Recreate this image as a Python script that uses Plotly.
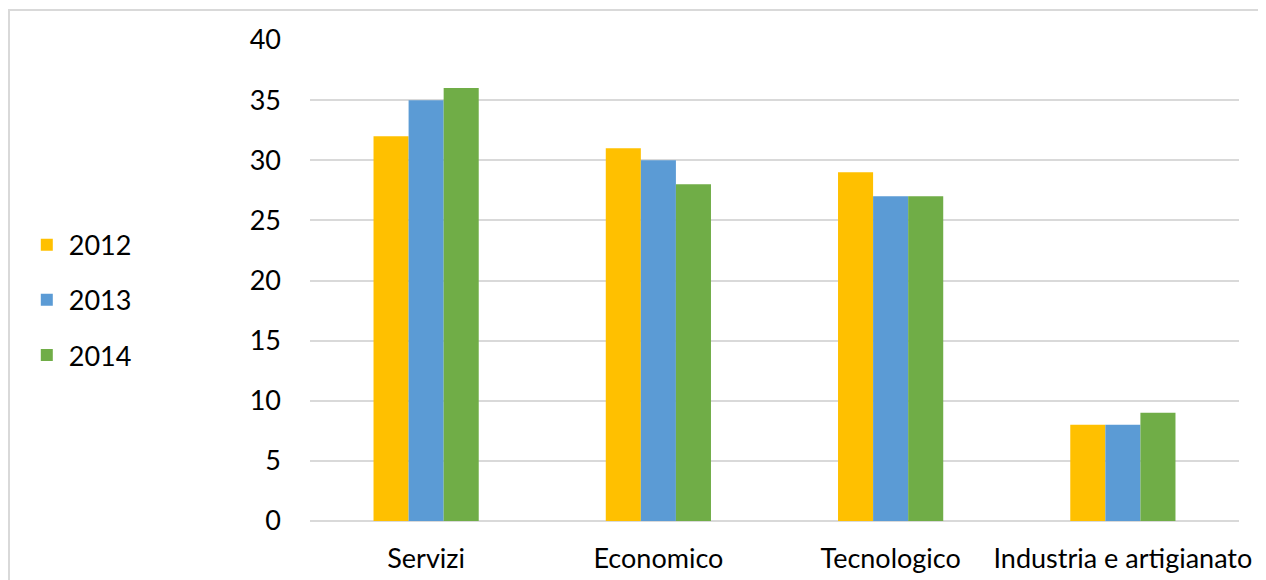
import plotly.graph_objects as go


# =========================================================
# data
# =========================================================

categories = [
    "Servizi",
    "Economico",
    "Tecnologico",
    "Industria e artigianato"
]

years = ["2012", "2013", "2014"]

values_2012 = [32, 31, 29, 8]
values_2013 = [35, 30, 27, 8]
values_2014 = [36, 28, 27, 9]

y_ticks = [0, 5, 10, 15, 20, 25, 30, 35, 40]

colors = ["#FFC000", "#5B9BD5", "#70AD47"]

series = [values_2012, values_2013, values_2014]


# =========================================================
# figure
# =========================================================

FONT = "Lato, 'Open Sans', sans-serif"
SIZE = 27

fig = go.Figure()

for year, values, color in zip(years, series, colors):

    fig.add_trace(

        go.Bar(

            x=categories,

            y=values,

            name=year,

            legendgroup=year,

            marker=dict(
                color=color,
                line=dict(width=0)
            )

        )

    )

# light frame around the chart area
fig.add_shape(
    type="rect",
    xref="paper",
    yref="paper",
    x0=-0.3240,
    x1=1.2,
    y0=-0.3,
    y1=1.0624,
    line=dict(color="#D9D9D9", width=2),
    layer="below"
)

fig.update_layout(

    width=1266,

    height=580,

    margin=dict(l=302, r=35, t=32, b=67),

    plot_bgcolor="white",

    paper_bgcolor="white",

    barmode="group",

    bargap=0.547,

    bargroupgap=0,

    font=dict(family=FONT, size=SIZE, color="#000000"),

    showlegend=True,

    legend=dict(
        x=-0.307,
        xanchor="left",
        y=0.459,
        yanchor="middle",
        tracegroupgap=17,
        itemwidth=34,
        font=dict(family=FONT, size=SIZE, color="#000000"),
        bgcolor="rgba(0,0,0,0)"
    ),

    xaxis=dict(
        showgrid=False,
        showline=False,
        ticks="",
        ticklabelstandoff=19,
        tickfont=dict(family=FONT, size=SIZE)
    ),

    yaxis=dict(
        range=[0, 40],
        tickvals=y_ticks,
        showgrid=True,
        gridcolor="#D9D9D9",
        gridwidth=1.5,
        zeroline=True,
        zerolinecolor="#D9D9D9",
        zerolinewidth=1.5,
        showline=False,
        ticks="",
        ticklabelstandoff=28,
        tickfont=dict(family=FONT, size=SIZE)
    )

)

fig.write_html("out.html")
